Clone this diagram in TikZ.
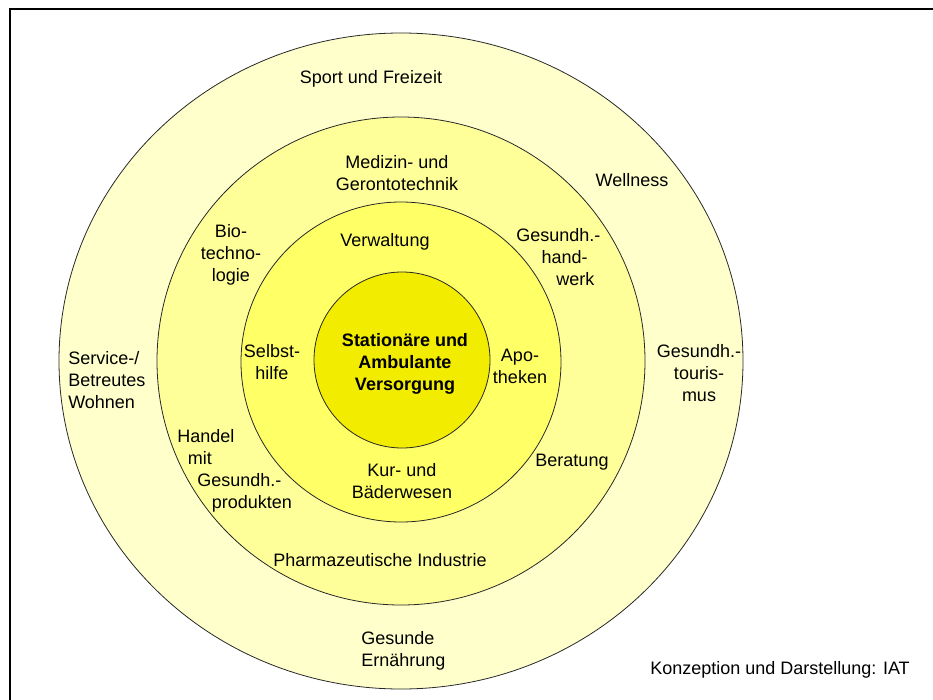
\documentclass[tikz,border=0pt]{standalone}
\usepackage{fontspec}
\setmainfont{Liberation Sans}
\usetikzlibrary{positioning}
\definecolor{ringaussen}{RGB}{255,255,204}
\definecolor{ringmitte}{RGB}{255,255,153}
\definecolor{ringinnen}{RGB}{255,255,102}
\definecolor{kern}{RGB}{242,236,0}
\definecolor{linie}{RGB}{40,40,40}

\begin{document}
\begin{tikzpicture}[x=0.75pt, y=-0.75pt,
    ring/.style={draw=linie, line width=0.6pt},
    txt/.style={inner sep=0pt, font=\fontsize{13.5}{16.5}\selectfont, align=center}]

    \useasboundingbox (0,0) rectangle (933,700);
    \draw[line width=1.5pt] (10,700) -- (10,9) -- (933,9);

    % Ringe von aussen nach innen
    \draw[ring, fill=ringaussen] (401,361) ellipse [x radius=342, y radius=328];
    \draw[ring, fill=ringmitte] (401,361) circle [radius=244];
    \draw[ring, fill=ringinnen] (401,362) circle [radius=160];
    \draw[ring, fill=kern] (402,360) circle [radius=88];

    % aeusserer Ring
    \node[txt] (sport) at (371,79) {Sport und Freizeit};
    \node[txt] (wellness) at (632,180) {Wellness};
    \node[txt] (tourismus) at (699,373) {Gesundh.-\\touris-\\mus};
    \node[txt, align=left, anchor=west] (service) at (68,380) {Service-/\\Betreutes\\Wohnen};
    \node[txt, align=left, anchor=west] (ernaehrung) at (361,651) {Gesunde\\Ern\"ahrung};

    % mittlerer Ring
    \node[txt] (medizin) at (397,173) {Medizin- und\\Gerontotechnik};
    \node[txt] (biotech) at (231,255) {Bio-\\techno-\\logie};
    \node[txt, align=left, anchor=north west] (handwerk) at (516,228) {Gesundh.-\\\hspace*{19pt}hand-\\\hspace*{30pt}werk};
    \node[txt, align=left, anchor=north west] (handel) at (177,429) {Handel\\\hspace*{8pt}mit\\\hspace*{15pt}Gesundh.-\\\hspace*{26pt}produkten};
    \node[txt] (pharma) at (380,560) {Pharmazeutische Industrie};
    \node[txt] (beratung) at (572,462) {Beratung};

    % innerer Ring
    \node[txt] (verwaltung) at (385,242) {Verwaltung};
    \node[txt] (selbsthilfe) at (272,362) {Selbst-\\hilfe};
    \node[txt] (apotheken) at (520,366) {Apo-\\theken};
    \node[txt] (kur) at (402,481) {Kur- und\\B\"aderwesen};

    % Kern
    \node[txt, font=\fontsize{13.5}{16.5}\selectfont\bfseries] (versorgung) at (405,364) {Station\"are und\\Ambulante\\Versorgung};

    \node[txt, anchor=west] (iat) at (650,670) {Konzeption und Darstellung: IAT};

\end{tikzpicture}
\end{document}
